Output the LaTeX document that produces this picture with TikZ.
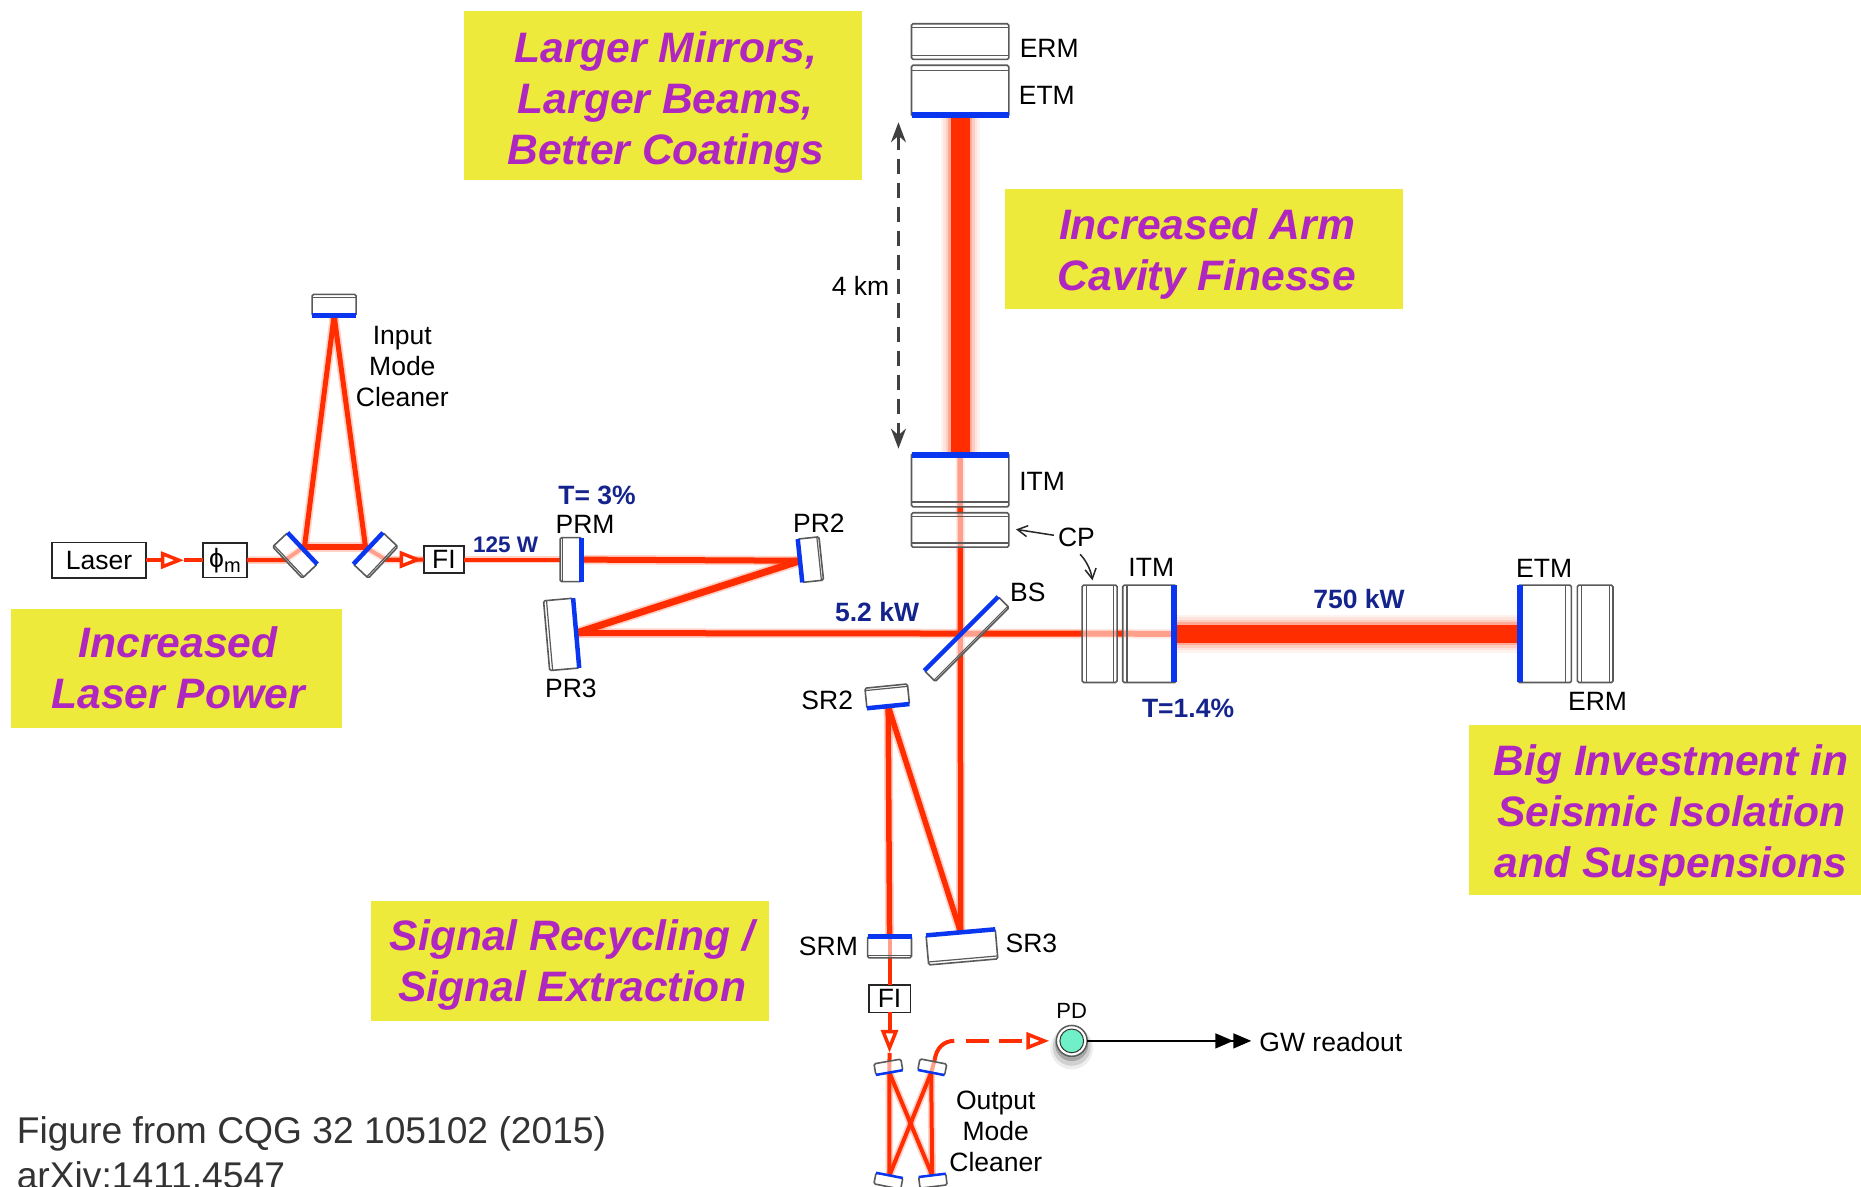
\documentclass[tikz,border=0pt]{standalone}
\usepackage{fontspec}
\setmainfont{Liberation Sans}
\usetikzlibrary{calc,arrows.meta}
\definecolor{beamred}{HTML}{FF2D00}
\definecolor{mirblue}{HTML}{0A36F0}
\definecolor{optgray}{HTML}{5A5A5A}
\definecolor{hiyel}{HTML}{EEEA3C}
\definecolor{himag}{HTML}{B026C0}
\definecolor{navy}{HTML}{14248C}
\definecolor{teal}{HTML}{6FF0C8}
\newcommand\U{1.18686pt}
\newcommand\innerH[2]{\draw[inr] ($(#1.north west)!#2!(#1.south west)$) -- ($(#1.north east)!#2!(#1.south east)$);}
\newcommand\innerV[2]{\draw[inr] ($(#1.north west)!#2!(#1.north east)$) -- ($(#1.south west)!#2!(#1.south east)$);}
\tikzset{
  sz/.style 2 args={minimum width=#1*\U,minimum height=#2*\U},
  optic/.style={draw=optgray,line width=1.6pt,fill=white,fill opacity=.55,rounded corners=1.5pt,inner sep=0pt,outer sep=0pt},
  solidbox/.style={draw=black!85,line width=1.6pt,fill=white,inner sep=0pt,outer sep=0pt},
  inr/.style={draw=optgray,line width=1.2pt},
  mir/.style={draw=mirblue,line width=#1,line cap=butt},
  mir/.default=4.5pt,
  beam/.style={draw=beamred,line width=#1,preaction={draw=beamred,opacity=.22,line width=#1+3.5pt}},
  wide/.style={draw=beamred,line width=#1,preaction={draw=beamred,opacity=.06,line width=#1+20pt},preaction={draw=beamred,opacity=.08,line width=#1+15pt},preaction={draw=beamred,opacity=.12,line width=#1+10pt},preaction={draw=beamred,opacity=.22,line width=#1+5pt}},
  thinbeam/.style={draw=beamred,line width=4pt},
  hollow/.style={-{Triangle[open,fill=white,length=23pt,width=17pt,line width=3.5pt]}},
  lab/.style={font=\fontsize{26.5}{31}\selectfont,inner sep=0pt,align=center,text=black},
  smalllab/.style={font=\fontsize{22}{26}\selectfont,inner sep=0pt,text=black},
  bluelab/.style={font=\fontsize{26.5}{31}\bfseries\selectfont,inner sep=0pt,text=navy},
  ybox/.style={fill=hiyel,inner sep=0pt},
  ytext/.style={inner sep=0pt,align=center,text=himag,font=\fontsize{42.6}{51}\bfseries\itshape\selectfont},
  callout/.style={draw=black!85,line width=1.5pt,-{Straight Barb[length=10pt,width=11pt,line width=1.5pt]}},
  figtext/.style={font=\fontsize{37.2}{42}\selectfont,inner sep=0pt,anchor=west,text=black!80},
}
\begin{document}
\begin{tikzpicture}[x=\U,y=-\U]
\useasboundingbox (0,0) rectangle (1568,1000);

% highlight boxes
\node[ybox,sz={335}{143}] (hMirrors) at (558.5,80.5) {};
\node[ytext] (tMirrors) at (561,86) {Larger Mirrors,\\Larger Beams,\\Better Coatings};
\node[ybox,sz={335}{101}] (hFinesse) at (1014.5,210) {};
\node[ytext] (tFinesse) at (1017,214) {Increased Arm\\Cavity Finesse};
\node[ybox,sz={279}{100}] (hLaser) at (148.5,563) {};
\node[ytext] (tLaser) at (150,563) {Increased\\Laser Power};
\node[ybox,sz={330}{143}] (hSeismic) at (1403,682.5) {};
\node[ytext] (tSeismic) at (1408,687) {Big Investment in\\Seismic Isolation\\and Suspensions};
\node[ybox,sz={335}{101}] (hSignal) at (480.5,809.5) {};
\node[ytext] (tSignal) at (482,813) {Signal Recycling /\\Signal Extraction};

% solid boxes (text in them)
\node[solidbox,lab,sz={79}{30}] (Laser) at (83.5,472) {Laser};
\node[solidbox,lab,sz={37}{29}] (phim) at (189.5,472) {ϕ\raisebox{-5pt}{\fontsize{20}{20}\selectfont m}};
\node[solidbox,lab,sz={34}{23}] (FIa) at (374,471.5) {FI};
\node[solidbox,lab,sz={35}{23}] (FIb) at (749.5,841.5) {FI};

\coordinate (imcLin) at (253,463);
\coordinate (imcLc) at (256.5,461);
\coordinate (imcRc) at (308,461);
\coordinate (imcRin) at (311,463);

% optics geometry
\path[every node/.style={inner sep=0pt,outer sep=0pt}]
  node[sz={37}{18}] (IMCt) at (281.5,257) {}
  node[sz={36.4}{17.3},rotate=-46.7] (IMCl) at (248.5,468) {}
  node[sz={36.4}{17.3},rotate=46.7] (IMCr) at (316.5,468) {}
  node[sz={18}{37}] (PRM) at (481,471.5) {}
  node[sz={18}{36.7},rotate=6] (PR2) at (683,471.5) {}
  node[sz={25}{59},rotate=5] (PR3) at (473,534.5) {}
  node[sz={88}{13},rotate=45] (BS) at (814.5,538.5) {}
  node[sz={82}{45}] (ITMy) at (809,404.5) {}
  node[sz={82}{29}] (CPy) at (809,446.5) {}
  node[sz={82}{43}] (ETMy) at (809,76.5) {}
  node[sz={82}{30}] (ERMy) at (809,35) {}
  node[sz={29.5}{82}] (CPx) at (926.5,534) {}
  node[sz={45}{82}] (ITMx) at (968.5,534) {}
  node[sz={45}{82}] (ETMx) at (1301.5,534) {}
  node[sz={30}{82}] (ERMx) at (1344,534) {}
  node[sz={36}{17},rotate=5.7] (SR2) at (747.5,586.5) {}
  node[sz={58.5}{25},rotate=5] (SR3) at (810.5,798) {}
  node[sz={37}{18}] (SRM) at (749.5,798) {}
  node[sz={23}{9.5},rotate=10] (OMCa) at (748.5,899) {}
  node[sz={23}{9.5},rotate=-11] (OMCb) at (785.5,899) {}
  node[sz={23}{9.5},rotate=-11] (OMCc) at (748.5,995) {}
  node[sz={23}{9.5},rotate=7] (OMCd) at (786,995) {};

% photodiode shadow and node
\fill[black,opacity=.07] (903,883) circle (18*\U);
\fill[black,opacity=.12] (903,882) circle (16*\U);
\fill[black,opacity=.20] (903,880) circle (14*\U);
\node[circle,draw=optgray,line width=1.5pt,fill=white,minimum size=26*\U,inner sep=0pt,outer sep=0pt] (PD) at (903,877) {};
\node[circle,draw=black!80,line width=1pt,fill=teal,minimum size=20*\U,inner sep=0pt] (PDin) at (PD.center) {};

% beams
\coordinate (arrA) at (155,472);
\coordinate (arrB) at (356,471.5);
\draw[thinbeam,hollow] (Laser.east) -- (arrA);
\draw[thinbeam] (arrA) -- (phim.west);
\draw[beam=4pt] (phim.east) -- (240,472) -- (imcLin);
\draw[beam=5pt] (imcLc) -- (IMCt.south);
\draw[beam=5pt] (IMCt.south) -- (imcRc);
\draw[beam=6pt] (imcLc) -- (imcRc);
\draw[beam=4pt] (imcRin) -- (325,471.5) -- (FIa.west);
\draw[thinbeam,hollow] (325,471.5) -- (arrB);
\draw[beam=4pt] (FIa.east) -- (PRM.west);
\draw[beam=6pt] (PRM.east) -- (PR2.west);
\draw[beam=7pt] (PR2.west) -- (PR3.east);
\draw[beam=6pt] (PR3.east) -- (ITMx.east);
\draw[wide=18pt] (ITMx.east) -- (ETMx.west);
\draw[wide=19pt] (ETMy.south) -- (ITMy.north);
\draw[beam=5.5pt] (ITMy.north) -- (SR3.north);
\draw[beam=5.5pt] (SR2.south) -- (SR3.north);
\draw[beam=5.5pt] (SR2.south) -- (SRM.north);
\draw[thinbeam] (SRM.north) -- (FIb.north);
\coordinate (arrC) at (749.5,887);
\draw[thinbeam,hollow] (FIb.south) -- (arrC);
\draw[thinbeam] (arrC) -- (OMCa.south);
\draw[beam=4pt] (OMCa.south) -- (OMCc.north);
\draw[beam=4pt] (OMCb.south) -- (OMCd.north);
\draw[beam=4pt] (OMCa.south) -- (OMCd.north);
\draw[beam=4pt] (OMCb.south) -- (OMCc.north);
\coordinate (omcOut) at (787.5,893);
\draw[thinbeam] (OMCb.south) -- (omcOut);
\coordinate (curveEnd) at (804,877);
\draw[thinbeam] (omcOut) .. controls (789,883) and (795,877) .. (curveEnd);
\coordinate (dashStart) at (814,877);
\draw[thinbeam,dash pattern=on 23pt off 10pt,shorten >=7pt,hollow] (dashStart) -- (PD.west);

% optic bodies on top of the beams
\foreach \n/\w/\h/\r/\x/\y in {
  IMCt/37/18/0/281.5/257, IMCl/36.4/17.3/-46.7/248.5/468, IMCr/36.4/17.3/46.7/316.5/468,
  PRM/18/37/0/481/471.5, PR2/18/36.7/6/683/471.5, PR3/25/59/5/473/534.5, BS/88/13/45/814.5/538.5,
  ITMy/82/45/0/809/404.5, CPy/82/29/0/809/446.5, ETMy/82/43/0/809/76.5, ERMy/82/30/0/809/35,
  CPx/29.5/82/0/926.5/534, ITMx/45/82/0/968.5/534, ETMx/45/82/0/1301.5/534, ERMx/30/82/0/1344/534,
  SR2/36/17/5.7/747.5/586.5, SR3/58.5/25/5/810.5/798, SRM/37/18/0/749.5/798,
  OMCa/23/9.5/10/748.5/899, OMCb/23/9.5/-11/785.5/899, OMCc/23/9.5/-11/748.5/995, OMCd/23/9.5/7/786/995}
  {\node[optic,sz={\w}{\h},rotate=\r] at (\x,\y) {};}

% inner lines of the optics
\innerH{ERMy}{.1}\innerH{ERMy}{.9}
\innerH{ETMy}{.11}
\innerH{ITMy}{.91}
\innerH{CPy}{.1}\innerH{CPy}{.88}
\innerV{CPx}{.13}\innerV{CPx}{.89}
\innerV{ITMx}{.08}
\innerV{ETMx}{.89}
\innerV{ERMx}{.12}\innerV{ERMx}{.9}
\innerV{PRM}{.12}
\innerH{IMCt}{.14}
\innerH{SRM}{.88}
\innerH{SR3}{.9}
\innerH{SR2}{.12}
\innerV{PR2}{.9}
\innerV{PR3}{.1}
\innerH{IMCl}{.9}
\innerH{IMCr}{.9}
\innerH{BS}{.88}

% coatings
\draw[mir=6pt] ($(ETMy.south west)+(0,-1.5)$) -- ($(ETMy.south east)+(0,-1.5)$);
\draw[mir=6pt] ($(ITMy.north west)+(0,1.5)$) -- ($(ITMy.north east)+(0,1.5)$);
\draw[mir=6pt] ($(ITMx.north east)+(-1.5,0)$) -- ($(ITMx.south east)+(-1.5,0)$);
\draw[mir=6pt] ($(ETMx.north west)+(1.5,0)$) -- ($(ETMx.south west)+(1.5,0)$);
\draw[mir] (IMCt.south west) -- (IMCt.south east);
\draw[mir] (IMCl.north west) -- (IMCl.north east);
\draw[mir] (IMCr.north west) -- (IMCr.north east);
\draw[mir] (PRM.north east) -- (PRM.south east);
\draw[mir] (PR2.north west) -- (PR2.south west);
\draw[mir] (PR3.north east) -- (PR3.south east);
\draw[mir] (BS.north west) -- (BS.north east);
\draw[mir] (SR2.south west) -- (SR2.south east);
\draw[mir] (SR3.north west) -- (SR3.north east);
\draw[mir] (SRM.north west) -- (SRM.north east);
\draw[mir=2.5pt] (OMCa.south west) -- (OMCa.south east);
\draw[mir=2.5pt] (OMCb.south west) -- (OMCb.south east);
\draw[mir=2.5pt] (OMCc.north west) -- (OMCc.north east);
\draw[mir=2.5pt] (OMCd.north west) -- (OMCd.north east);

% labels
\node[lab] (lERMy) at (884,40.5) {ERM};
\node[lab] (lETMy) at (882,80) {ETM};
\node[lab] (l4km) at (725,241) {4 km};
\node[lab] (lIMC) at (339,309) {Input\\Mode\\Cleaner};
\node[bluelab] (lT3) at (503,417) {T= 3\%};
\node[lab] (lPRM) at (493,442) {PRM};
\node[bluelab,font=\fontsize{22.5}{26}\bfseries\selectfont] (l125) at (426,459) {125 W};
\node[lab] (lPR2) at (690,441) {PR2};
\node[lab] (lPR3) at (481,580) {PR3};
\node[bluelab] (l52) at (739,516) {5.2 kW};
\node[lab] (lITMy) at (878,406) {ITM};
\node[lab] (cplab) at (907,453) {CP};
\node[lab] (lBS) at (866,499) {BS};
\node[lab] (lITMx) at (970,478) {ITM};
\node[bluelab] (lT14) at (1001,597) {T=1.4\%};
\node[bluelab] (l750) at (1145,505) {750 kW};
\node[lab] (lETMx) at (1301,479) {ETM};
\node[lab] (lERMx) at (1346,591) {ERM};
\node[lab] (lSR2) at (697,590) {SR2};
\node[lab] (lSRM) at (698,797) {SRM};
\node[lab] (lSR3) at (869,794.5) {SR3};
\node[smalllab] (lPD) at (903,852) {PD};
\node[lab,anchor=west] (gw) at (1061,878) {GW readout};
\node[lab] (lOMC) at (839,953) {Output\\Mode\\Cleaner};
\node[figtext] (figA) at (14,955) {Figure from CQG 32 105102 (2015)};
\node[figtext] (figB) at (14,990) {arXiv:1411.4547};

% non-beam connectors
\coordinate (kmTop) at (757,103);
\coordinate (kmBot) at (757,378);
\draw[draw=black!75,line width=2.6pt,dash pattern=on 15pt off 9pt,{Stealth[length=20pt,width=15pt]}-{Stealth[length=20pt,width=15pt]}] (kmTop) -- (kmBot);
\coordinate (cpTipA) at (856,446);
\coordinate (cpFromA) at (888,451);
\coordinate (cpFromB) at (910,467);
\coordinate (cpTipB) at (920.5,489);
\draw[callout] (cpFromA) -- (cpTipA);
\draw[callout] (cpFromB) .. controls (915,472) and (919,480) .. (cpTipB);
\draw[draw=black,line width=1.5pt,shorten >=8pt,-{Triangle[length=18pt,width=15pt]Triangle[length=18pt,width=15pt]}] (PD.east) -- (PD.east -| gw.west);
\end{tikzpicture}
\end{document}
